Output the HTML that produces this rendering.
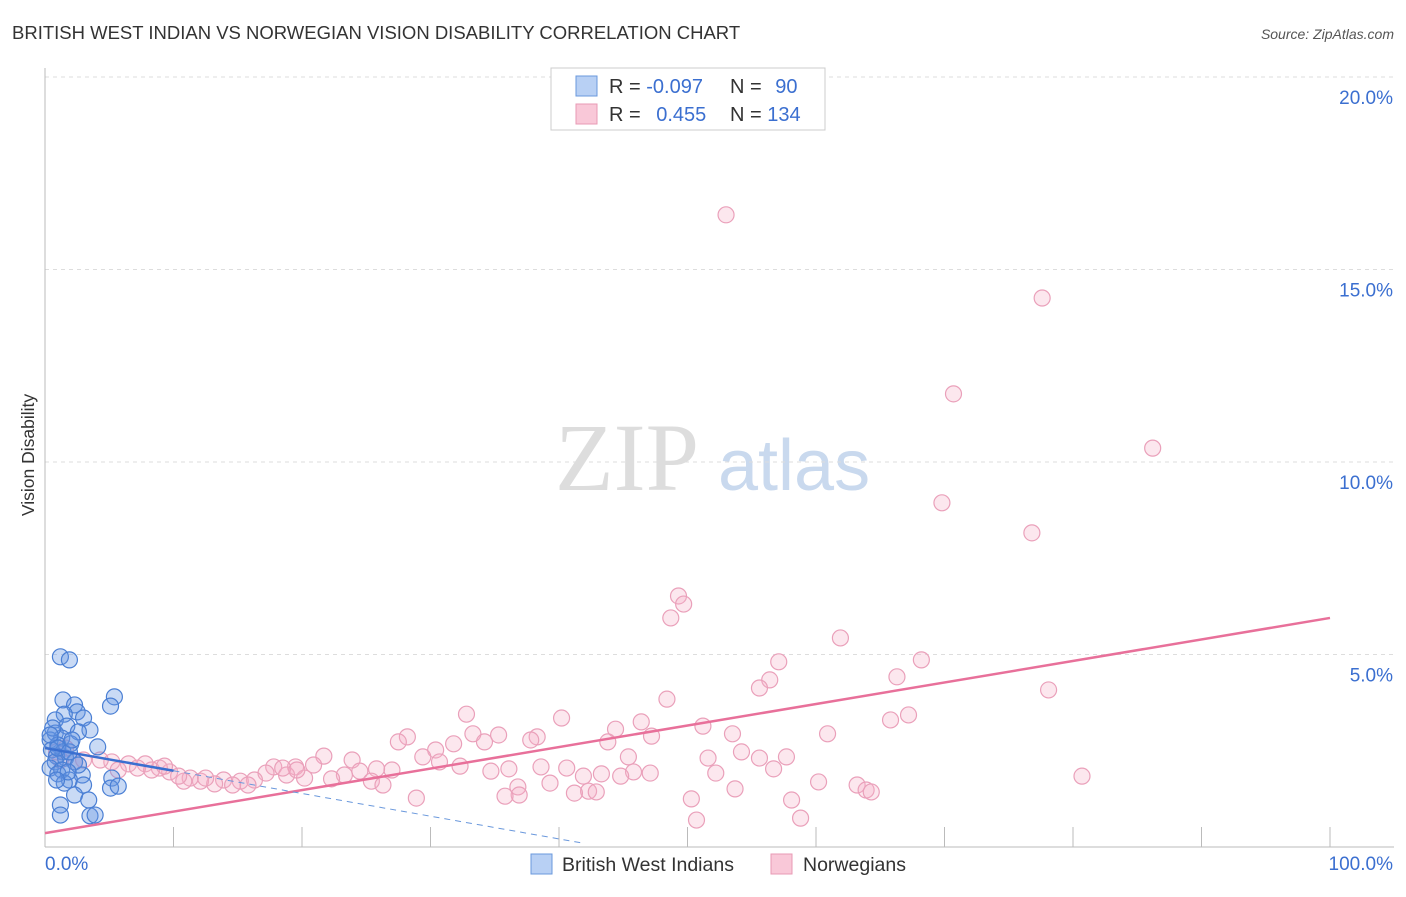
<!DOCTYPE html>
<html><head><meta charset="utf-8"><style>
body{margin:0;background:#fff;font-family:"Liberation Sans",sans-serif;}
</style></head><body>
<svg id="chart" width="1406" height="892" xmlns="http://www.w3.org/2000/svg" font-family="Liberation Sans, sans-serif">
<text x="12" y="39" font-size="18.5" fill="#333">BRITISH WEST INDIAN VS NORWEGIAN VISION DISABILITY CORRELATION CHART</text>
<text x="1394" y="39" font-size="14" fill="#555" font-style="italic" text-anchor="end">Source: ZipAtlas.com</text>
<text x="555" y="490" font-size="96" fill="#ddd" font-family="Liberation Serif, serif">ZIP</text>
<text x="718" y="490" font-size="72" fill="#c9d9ee">atlas</text>
<text transform="translate(34,455) rotate(-90)" font-size="17.5" fill="#333" text-anchor="middle">Vision Disability</text>
<g id="grid"></g><g id="axes"></g><g id="marks"></g><g id="lines"></g>
<g>
<rect x="551" y="68" width="274" height="62" fill="#fff" stroke="#ccc"/>
<rect x="576" y="76" width="21" height="20" fill="#b8d0f4" stroke="#6a98dc"/>
<rect x="576" y="104" width="21" height="20" fill="#f9c8d8" stroke="#e89ab4"/>
<text x="609" y="93" font-size="20" fill="#333">R = <tspan fill="#3b6fd0">-0.097</tspan></text>
<text x="730" y="93" font-size="20" fill="#333">N = <tspan fill="#3b6fd0" dx="8">90</tspan></text>
<text x="609" y="121" font-size="20" fill="#333">R = <tspan fill="#3b6fd0" dx="10">0.455</tspan></text>
<text x="730" y="121" font-size="20" fill="#333">N = <tspan fill="#3b6fd0">134</tspan></text>
</g>
<g>
<rect x="531" y="854" width="21" height="20" fill="#b8d0f4" stroke="#6a98dc"/>
<text x="562" y="871" font-size="19.5" fill="#333">British West Indians</text>
<rect x="771" y="854" width="21" height="20" fill="#f9c8d8" stroke="#e89ab4"/>
<text x="803" y="871" font-size="19.5" fill="#333">Norwegians</text>
</g>
</svg>
<script>
const pinkX=[53.0,77.6,70.7,86.2,69.8,76.8,49.3,49.7,48.7,61.9,68.2,57.1,56.4,55.6,66.3,78.1,48.4,67.2,65.8,32.8,40.2,46.4,51.2,44.4,28.2,35.3,38.3,53.5,60.9,27.5,33.3,47.2,43.8,34.2,31.8,37.8,54.2,30.4,29.4,30.7,23.9,21.7,45.4,51.6,57.7,55.6,32.3,27.0,36.1,34.7,40.6,38.6,56.7,45.8,47.1,43.3,52.2,41.9,44.8,20.9,19.5,17.8,24.5,25.8,23.3,22.3,25.4,26.3,60.2,63.2,63.9,64.3,80.7,36.8,39.3,36.9,35.8,42.3,42.9,41.2,53.7,50.3,58.1,28.9,50.7,58.8,20.2,18.8,17.2,16.3,15.2,13.9,13.2,14.6,15.8,12.1,11.3,10.8,9.7,8.9,7.8,6.5,5.2,4.3,3.0,2.3,1.2,0.9,1.6,5.7,7.2,8.3,9.3,10.4,12.5,18.5,19.6];
const pinkY=[16.42,14.26,11.77,10.36,8.94,8.16,6.52,6.31,5.95,5.43,4.86,4.81,4.34,4.13,4.42,4.08,3.84,3.43,3.30,3.45,3.35,3.25,3.14,3.06,2.86,2.91,2.86,2.94,2.94,2.73,2.94,2.88,2.73,2.73,2.68,2.78,2.47,2.52,2.34,2.21,2.26,2.36,2.34,2.31,2.34,2.31,2.10,2.00,2.03,1.97,2.05,2.08,2.03,1.95,1.92,1.90,1.92,1.84,1.84,2.13,2.08,2.08,1.97,2.03,1.87,1.77,1.71,1.61,1.69,1.61,1.48,1.43,1.84,1.56,1.66,1.35,1.32,1.45,1.43,1.40,1.51,1.25,1.22,1.27,0.70,0.75,1.79,1.87,1.92,1.74,1.71,1.74,1.64,1.61,1.61,1.71,1.79,1.71,1.95,2.05,2.16,2.16,2.21,2.26,2.26,2.21,2.26,2.47,2.57,2.0,2.05,2.0,2.1,1.84,1.79,2.05,2.0];
const blueX=[1.2,1.9,5.4,5.1,1.4,2.3,2.5,1.5,3.0,0.8,1.7,3.5,2.6,0.8,1.3,0.4,1.0,2.0,4.1,0.5,1.4,0.9,1.6,2.3,0.8,0.4,1.3,2.9,1.0,5.2,1.9,1.5,3.0,5.1,5.7,2.3,3.4,1.2,1.2,3.5,3.9,0.6,0.4,1.0,1.9,2.6,1.8,0.9,2.1];
const blueY=[4.94,4.86,3.90,3.66,3.82,3.69,3.51,3.45,3.35,3.30,3.14,3.04,2.99,2.96,2.83,2.78,2.65,2.68,2.60,2.52,2.47,2.36,2.31,2.21,2.21,2.05,2.00,1.87,1.90,1.79,1.74,1.66,1.61,1.53,1.58,1.35,1.22,1.09,0.83,0.81,0.83,3.09,2.91,2.57,2.47,2.13,1.95,1.74,2.78];
const yTicks=[5,10,15,20];
const yTickLabels=["5.0%","10.0%","15.0%","20.0%"];
const pinkTrend=[0.36,5.95];
const blueTrend=[2.57,-0.059];
const NS="http://www.w3.org/2000/svg";
const X0=45,X1=1330,Y0=847,PY=38.5;
const sx=v=>X0+(X1-X0)*v/100, sy=v=>Y0-v*PY;
function mk(tag,attrs,parent){const e=document.createElementNS(NS,tag);for(const k in attrs)e.setAttribute(k,attrs[k]);document.getElementById(parent).appendChild(e);return e;}
yTicks.forEach((t,i)=>{
 const l=mk('line',{x1:X0,x2:1394,y1:sy(t),y2:sy(t),stroke:'#ddd','stroke-dasharray':'4,4'},'grid');
 
 
 const tx=mk('text',{x:1393,y:sy(t)+27,'font-size':19,fill:'#3b6fd0','text-anchor':'end'},'grid');
 tx.textContent=yTickLabels[i];
 
 
});
const ax=mk('line',{x1:X0,x2:X0,y1:68,y2:Y0,stroke:'#bbb'},'axes');


const bx=mk('line',{x1:X0,x2:1394,y1:Y0,y2:Y0,stroke:'#bbb'},'axes');


for(let i=1;i<=10;i++){const t=mk('line',{x1:sx(i*10),x2:sx(i*10),y1:827,y2:Y0,stroke:'#bbb'},'axes');
 
 }
[["0.0%",X0,'start'],["100.0%",1393,'end']].forEach(a=>{const t=mk('text',{x:a[1],y:870,'font-size':19,fill:'#3b6fd0','text-anchor':a[2]},'axes');t.textContent=a[0];
 
 });
pinkX.forEach((x,i)=>{const c=mk('circle',{cx:sx(x),cy:sy(pinkY[i]),r:8,fill:'rgba(245,175,200,0.3)',stroke:'#eaa0ba','stroke-width':1.2},'marks');
 
 });
blueX.forEach((x,i)=>{const c=mk('circle',{cx:sx(x),cy:sy(blueY[i]),r:8,fill:'rgba(100,150,225,0.35)',stroke:'#4a7fd4','stroke-width':1.2},'marks');
 
 });
const pl=mk('line',{x1:sx(0),y1:sy(pinkTrend[0]),x2:sx(100),y2:sy(pinkTrend[1]),stroke:'#e8709a','stroke-width':2.5},'lines');


const bf=x=>blueTrend[0]+blueTrend[1]*x;
const bl=mk('line',{x1:sx(0),y1:sy(bf(0)),x2:sx(10),y2:sy(bf(10)),stroke:'#3a6fd0','stroke-width':2.5},'lines');


const bd=mk('line',{x1:sx(10),y1:sy(bf(10)),x2:sx(42),y2:sy(bf(42)),stroke:'#6a98dc','stroke-width':1,'stroke-dasharray':'6,5'},'lines');


</script>
</body></html>
